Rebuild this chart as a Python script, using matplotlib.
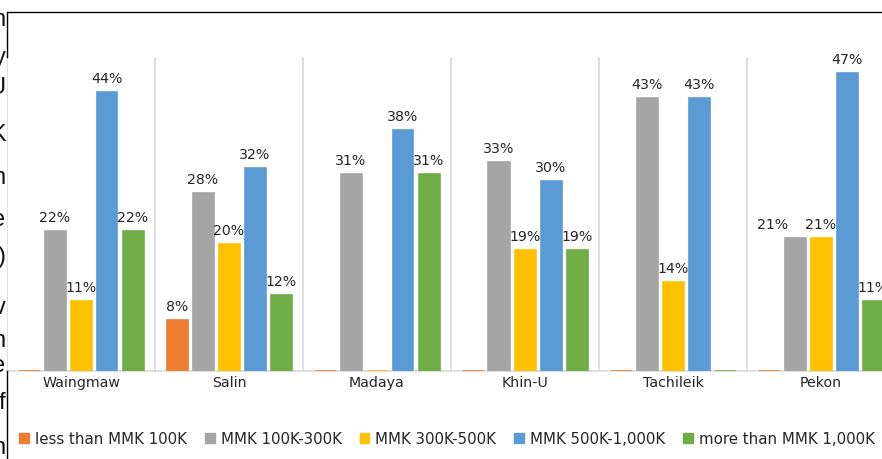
import numpy as np
import matplotlib
matplotlib.use('Agg')
from matplotlib import pyplot as plt
from matplotlib.lines import Line2D
from matplotlib.patches import Patch

regions = ['Waingmaw', 'Salin', 'Madaya', 'Khin-U', 'Tachileik', 'Pekon']
series = ['less than MMK 100K', 'MMK 100K-300K', 'MMK 300K-500K',
          'MMK 500K-1,000K', 'more than MMK 1,000K']
less_100k = [0, 8, 0, 0, 0, 0]
k100_300 = [22, 28, 31, 33, 43, 21]
k300_500 = [11, 20, 0, 19, 14, 21]
k500_1000 = [44, 32, 38, 30, 43, 47]
more_1000 = [22, 12, 31, 19, 0, 11]
# cut-off letters of the page text on the left edge
edge_letters = ['n', 'y', 'U', 'K', 'n', 'e', ')', 'v', 'n', 'e', 'f', 'n']

colors = ['#ED7D31', '#A5A5A5', '#FFC000', '#5B9BD5', '#70AD47']
values = [less_100k, k100_300, k300_500, k500_1000, more_1000]

plt.rcParams['font.family'] = ['DejaVu Sans']
fs = 10.2

W, H = 882, 460
fig = plt.figure(figsize=(W / 100, H / 100), dpi=100)

# plot area in pixels
left, right, top, base = 7, 895, 58, 371.7
ax = fig.add_axes([left / W, (H - base) / H, (right - left) / W, (base - top) / H])
ax.set_facecolor('none')

x = np.arange(len(regions))
step = 26 / 148
width = 21 / 148
for i, (name, vals, c) in enumerate(zip(series, values, colors)):
    bars = ax.bar(x + (i - 2) * step, vals, width, color=c, edgecolor=c,
                  linewidth=1.2, label=name, zorder=3)
    texts = ax.bar_label(bars, labels=['' if v == 0 else f'{v}%' for v in vals],
                         padding=5, fontsize=fs, color='#262626')
    if i == 1:
        # the Pekon label is nudged left so it does not collide with its neighbour
        texts[5].xyann = (-16.5, 5)

ax.set_xlim(-0.5, len(regions) - 0.5)
ax.set_ylim(0, 49.5)
ax.set_yticks([])
ax.set_xticks(x)
ax.set_xticklabels(regions, fontsize=fs, color='#262626')
ax.tick_params(axis='x', length=0, pad=3)
ax.set_xticks(np.arange(-0.5, len(regions)), minor=True)
ax.tick_params(axis='x', which='minor', length=0)
ax.grid(which='minor', axis='x', color='#D9D9D9', linewidth=1.2, zorder=0)
for s in ['top', 'right', 'left']:
    ax.spines[s].set_visible(False)
ax.spines['bottom'].set_color('#D9D9D9')
ax.spines['bottom'].set_linewidth(1.2)
ax.spines['bottom'].set_zorder(2)

handles = [Patch(facecolor=c, edgecolor=c) for c in colors]
fig.legend(handles, series, loc='center left', bbox_to_anchor=(19 / W, 1 - 440 / H),
           ncol=5, frameon=False, fontsize=10.8, handlelength=0.66, handleheight=0.66,
           handletextpad=0.4, columnspacing=1.2, borderpad=0, borderaxespad=0,
           labelcolor='#262626')

# black frame of the surrounding box
fig.add_artist(Line2D([6.5 / W, 1], [1 - 13 / H, 1 - 13 / H], color='black', lw=1.0))
fig.add_artist(Line2D([6.5 / W, 6.5 / W], [1 - 13 / H, 1 - top / H], color='black', lw=1.0))
fig.add_artist(Line2D([6.5 / W, 6.5 / W], [1 - base / H, 0], color='black', lw=1.0))

ys = [20, 58, 88, 135, 178, 220, 257, 308, 341, 366, 403, 448]
for ch, yy in zip(edge_letters, ys):
    fig.text(5.5 / W, 1 - yy / H, ch, ha='right', va='center', fontsize=17,
             color='#111111', family=['Liberation Sans', 'DejaVu Sans'])

fig.savefig('out.png', dpi=100)
